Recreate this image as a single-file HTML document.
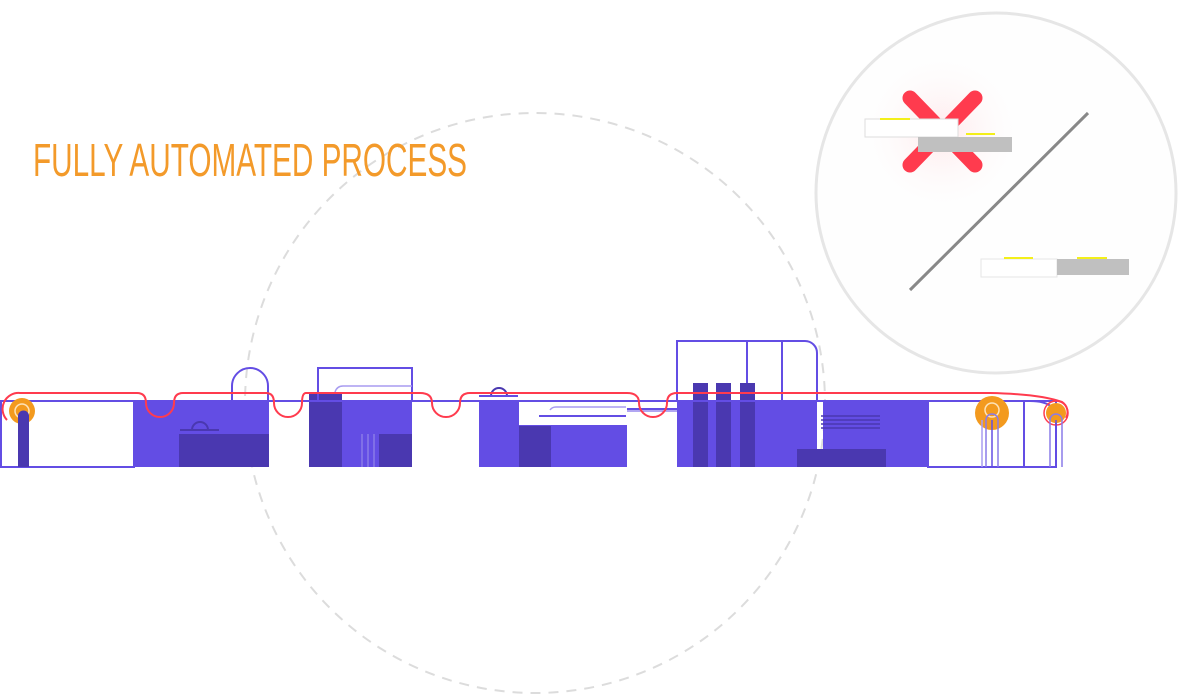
<!DOCTYPE html>
<html><head><meta charset="utf-8"><style>
html,body{margin:0;padding:0;background:#fff;width:1202px;height:696px;overflow:hidden}
svg{display:block}
</style></head><body>
<svg width="1202" height="696" viewBox="0 0 1202 696" xmlns="http://www.w3.org/2000/svg">
<defs>
<radialGradient id="glow" cx="0.5" cy="0.5" r="0.5">
<stop offset="0" stop-color="#ffe6e8" stop-opacity="0.9"/>
<stop offset="1" stop-color="#fff" stop-opacity="0"/>
</radialGradient>
</defs>
<!-- dashed big circle -->
<circle cx="535" cy="403" r="290" fill="none" stroke="#dcdcdc" stroke-width="2" stroke-dasharray="10 8"/>
<!-- right circle -->
<circle cx="996" cy="193" r="180" fill="#fefefe" stroke="#e6e6e6" stroke-width="3"/>
<circle cx="942" cy="132" r="85" fill="url(#glow)"/>
<g stroke="#ff3b4e" stroke-width="15" stroke-linecap="round">
<line x1="910" y1="98" x2="975" y2="165"/>
<line x1="975" y1="98" x2="910" y2="165"/>
</g>
<rect x="865" y="119" width="93" height="18" fill="#fff" stroke="#ddd" stroke-width="1"/>
<line x1="880" y1="119" x2="910" y2="119" stroke="#f3ef1a" stroke-width="2"/>
<rect x="918" y="137" width="94" height="15" fill="#c0c0c0"/>
<line x1="966" y1="134" x2="995" y2="134" stroke="#f3ef1a" stroke-width="2"/>
<line x1="1088" y1="113" x2="910" y2="290" stroke="#888" stroke-width="3"/>
<rect x="981" y="259" width="76" height="18" fill="#fff" stroke="#e5e5e5" stroke-width="1"/>
<rect x="1057" y="259" width="72" height="16" fill="#c0c0c0"/>
<line x1="1004" y1="258" x2="1033" y2="258" stroke="#f3ef1a" stroke-width="2"/>
<line x1="1077" y1="258" x2="1107" y2="258" stroke="#f3ef1a" stroke-width="2"/>

<!-- title -->
<text x="33" y="176" font-family="Liberation Sans Narrow, Liberation Sans, sans-serif" font-size="46" fill="#f39a2a" textLength="434" lengthAdjust="spacingAndGlyphs">FULLY AUTOMATED PROCESS</text>

<g fill="#634de4">
<rect x="134" y="401" width="135" height="66"/>
<rect x="309" y="401" width="103" height="66"/>
<rect x="479" y="401" width="148" height="66"/>
<rect x="677" y="401" width="140" height="66"/>
<rect x="823" y="401" width="105" height="66"/>
</g>
<g fill="#4a38b0">
<rect x="179" y="434" width="90" height="33"/>
<rect x="309" y="392" width="33" height="75"/>
<rect x="379" y="434" width="33" height="33"/>
<rect x="519" y="426" width="32" height="41"/>
<rect x="693" y="383" width="15" height="84"/>
<rect x="716" y="383" width="15" height="84"/>
<rect x="740" y="383" width="15" height="84"/>
<rect x="797" y="449" width="89" height="18"/>
</g>
<rect x="519" y="401" width="108" height="24" fill="#fff"/>

<g fill="none" stroke="#634de4" stroke-width="2">
<line x1="0" y1="401" x2="1030" y2="401"/>
<rect x="1" y="401" width="133" height="66" fill="#fff"/>
<path d="M232 401 V386 A18 18 0 0 1 268 386 V401"/>
<rect x="318" y="368" width="94" height="33"/>
<path d="M677 401 V341 H805 A12 12 0 0 1 817 353 V401"/>
<line x1="747" y1="341" x2="747" y2="383"/>
<line x1="782" y1="341" x2="782" y2="401"/>
<path d="M928 401 H1030 Q1045 401 1052 407"/>
<rect x="928" y="401" width="128" height="66"/>
<line x1="1024" y1="401" x2="1024" y2="467"/>
<line x1="627" y1="409" x2="677" y2="409"/>
<line x1="627" y1="411" x2="677" y2="411" stroke-width="1"/>
<line x1="539" y1="416" x2="626" y2="416"/>
</g>
<g fill="none" stroke="#4a38b0" stroke-width="2">
<path d="M192 430 A8 8 0 0 1 208 430"/>
<line x1="180" y1="430" x2="219" y2="430"/>
<path d="M491 396 A8 8 0 0 1 507 396"/>
<line x1="479" y1="396" x2="518" y2="396" stroke="#634de4"/>
</g>
<g fill="none" stroke="#a89cf0" stroke-width="1.5">
<path d="M335 392 Q337 386 343 386 H412"/>
<path d="M550 410 Q552 407 556 407 H626"/>
<line x1="362" y1="434" x2="362" y2="467" stroke="#8a7be8"/>
<line x1="368" y1="434" x2="368" y2="467" stroke="#8a7be8"/>
<line x1="374" y1="434" x2="374" y2="467" stroke="#8a7be8"/>
</g>
<g stroke="#4a38b0" stroke-width="1.5">
<line x1="821" y1="416" x2="880" y2="416"/>
<line x1="821" y1="420" x2="880" y2="420"/>
<line x1="821" y1="424" x2="880" y2="424"/>
<line x1="821" y1="428" x2="880" y2="428"/>
</g>

<!-- orange rollers -->
<circle cx="22" cy="411" r="13" fill="#f39a1e"/>
<circle cx="22" cy="411" r="7" fill="none" stroke="#fde2b8" stroke-width="1.5"/>
<path d="M18 467 V416 A5.5 5.5 0 0 1 29 416 V467 Z" fill="#4a38b0"/>
<circle cx="992" cy="413" r="17" fill="#f39a1e"/>
<circle cx="992" cy="410" r="7" fill="none" stroke="#fde2b8" stroke-width="1.5"/>
<circle cx="1056" cy="413" r="10" fill="#f39a1e"/>
<circle cx="1056" cy="413" r="12" fill="none" stroke="#ff3b4e" stroke-width="1.5"/>
<g stroke="#8a7be8" stroke-width="1.5" fill="none">
<path d="M986 467 V420 A6 6 0 0 1 998 420 V467"/>
<line x1="992" y1="420" x2="992" y2="467" stroke="#634de4"/>
<line x1="982" y1="420" x2="982" y2="467" stroke="#a89cf0"/>
<path d="M1050 467 V420 A6 6 0 0 1 1062 420 V467"/>
<line x1="1056" y1="420" x2="1056" y2="467" stroke="#634de4"/>
</g>

<!-- red conveyor -->
<path d="M7 420 A16 16 0 0 1 20 393 H137 Q146 393 146 403 A14 14 0 0 0 174 403 Q174 393 183 393 H266 Q274 393 274 403 A14 14 0 0 0 302 403 Q302 393 306 393 H420 Q432 393 432 403 A14 14 0 0 0 460 403 Q460 393 470 393 H627 Q639 393 639 403 A14 14 0 0 0 667 403 Q667 393 677 393 H990 Q1040 394 1062 402 A12 12 0 0 1 1066 418" fill="none" stroke="#ff3b4e" stroke-width="2"/>
</svg>
</body></html>
